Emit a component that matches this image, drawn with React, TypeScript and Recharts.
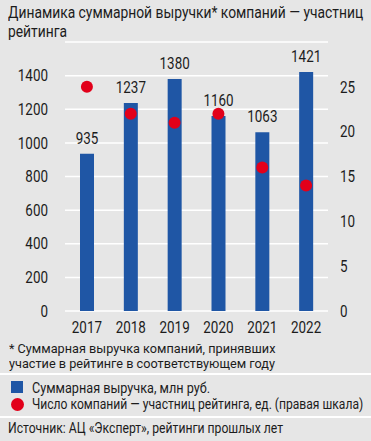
import { useLayoutEffect, useRef, useState } from 'react'
import { Bar, CartesianGrid, ComposedChart, LabelList, Line, XAxis, YAxis } from 'recharts'

const years = ['2017', '2018', '2019', '2020', '2021', '2022']
const revenue = [935, 1237, 1380, 1160, 1063, 1421]
const companies = [25, 22, 21, 22, 16, 14]
const leftTicks = [0, 200, 400, 600, 800, 1000, 1200, 1400]
const rightTicks = [0, 5, 10, 15, 20, 25]

const FONT = 'Roboto, "Noto Sans", sans-serif'
const SX = 0.84 // narrow the font like the condensed face of the original
const BLUE = '#1f56a5'
const RED = '#e2001a'
const TEXT = '#1c1c1c'

const data = years.map((year, i) => ({
  year,
  revenue: revenue[i],
  companies: companies[i]
}))

const NarrowTick = (props: any) => {
  const { x, y, payload, textAnchor, dy } = props
  return (
    <text
      transform={`translate(${x},${y}) scale(${SX},1)`}
      textAnchor={textAnchor}
      dy={dy}
      fill={TEXT}
      fontSize={16}
      fontFamily={FONT}
    >
      {payload.value}
    </text>
  )
}

const BarValue = (props: any) => {
  const { x, y, width, value } = props
  return (
    <text
      transform={`translate(${Number(x) + Number(width) / 2},${Number(y) - 10}) scale(${SX},1)`}
      textAnchor="middle"
      fill={TEXT}
      fontSize={16}
      fontFamily={FONT}
    >
      {value}
    </text>
  )
}

// text block squeezed so its widest line gets the width it has in the original
const Fit = (p: { top: number; left: number; right: number; size: number; lh: number; children: any }) => {
  const ref = useRef<HTMLDivElement>(null)
  const [s, setS] = useState(SX)
  useLayoutEffect(() => {
    if (ref.current) setS((p.right - p.left) / ref.current.offsetWidth)
  }, [p.left, p.right])
  return (
    <div
      ref={ref}
      style={{
        position: 'absolute',
        top: p.top,
        left: p.left,
        fontSize: p.size,
        lineHeight: p.lh + 'px',
        whiteSpace: 'nowrap',
        transform: `scaleX(${s})`,
        transformOrigin: 'left center'
      }}
    >
      {p.children}
    </div>
  )
}

export default function App() {
  return (
    <div
      style={{
        position: 'absolute',
        top: 0,
        left: 0,
        width: 371,
        height: 441,
        background: '#e6e6e6',
        fontFamily: FONT,
        color: TEXT,
        overflow: 'hidden'
      }}
    >
      <Fit top={3} left={8} right={363} size={17} lh={19}>
        Динамика суммарной выручки* компаний — участниц
        <br />
        рейтинга
      </Fit>
      <div style={{ position: 'absolute', top: 0, left: 0 }}>
        <ComposedChart
          width={371}
          height={340}
          data={data}
          margin={{ top: 42, right: 0, bottom: 0, left: 0 }}
        >
          <CartesianGrid yAxisId="left" vertical={false} stroke="#ffffff" strokeWidth={1.5} />
          <XAxis
            dataKey="year"
            axisLine={false}
            tickLine={false}
            height={29}
            tickMargin={5}
            tick={<NarrowTick dy="0.71em" />}
            interval={0}
          />
          <YAxis
            yAxisId="left"
            domain={[0, 1600]}
            ticks={leftTicks}
            width={65}
            axisLine={false}
            tickLine={false}
            tickMargin={11}
            tick={<NarrowTick dy="0.355em" />}
          />
          <YAxis
            yAxisId="right"
            orientation="right"
            domain={[0, 30]}
            ticks={rightTicks}
            width={43}
            axisLine={false}
            tickLine={false}
            tickMargin={6}
            tick={<NarrowTick dy="0.355em" />}
          />
          <Bar yAxisId="left" dataKey="revenue" fill={BLUE} barSize={14} isAnimationActive={false}>
            <LabelList dataKey="revenue" content={<BarValue />} />
          </Bar>
          <Line
            yAxisId="right"
            dataKey="companies"
            stroke="none"
            dot={{ r: 6, fill: RED, stroke: 'none' }}
            activeDot={false}
            isAnimationActive={false}
          />
        </ComposedChart>
      </div>
      <Fit top={341} left={9} right={275} size={13.5} lh={15}>
        * Суммарная выручка компаний, принявших
        <br />
        участие в рейтинге в соответствующем году
      </Fit>
      <div style={{ position: 'absolute', left: 0, top: 373, width: 371, height: 2, background: '#fff' }} />
      <div style={{ position: 'absolute', left: 11, top: 381, width: 12, height: 12, background: BLUE }} />
      <Fit top={380} left={32} right={210} size={14} lh={16}>
        Суммарная выручка, млн руб.
      </Fit>
      <div
        style={{
          position: 'absolute',
          left: 11,
          top: 398,
          width: 13,
          height: 13,
          borderRadius: 7,
          background: RED
        }}
      />
      <Fit top={396} left={32} right={363} size={14} lh={16}>
        Число компаний — участниц рейтинга, ед. (правая шкала)
      </Fit>
      <div style={{ position: 'absolute', left: 0, top: 416, width: 371, height: 2, background: '#fff' }} />
      <Fit top={420} left={8} right={283} size={15} lh={16}>
        Источник: АЦ «Эксперт», рейтинги прошлых лет
      </Fit>
    </div>
  )
}
